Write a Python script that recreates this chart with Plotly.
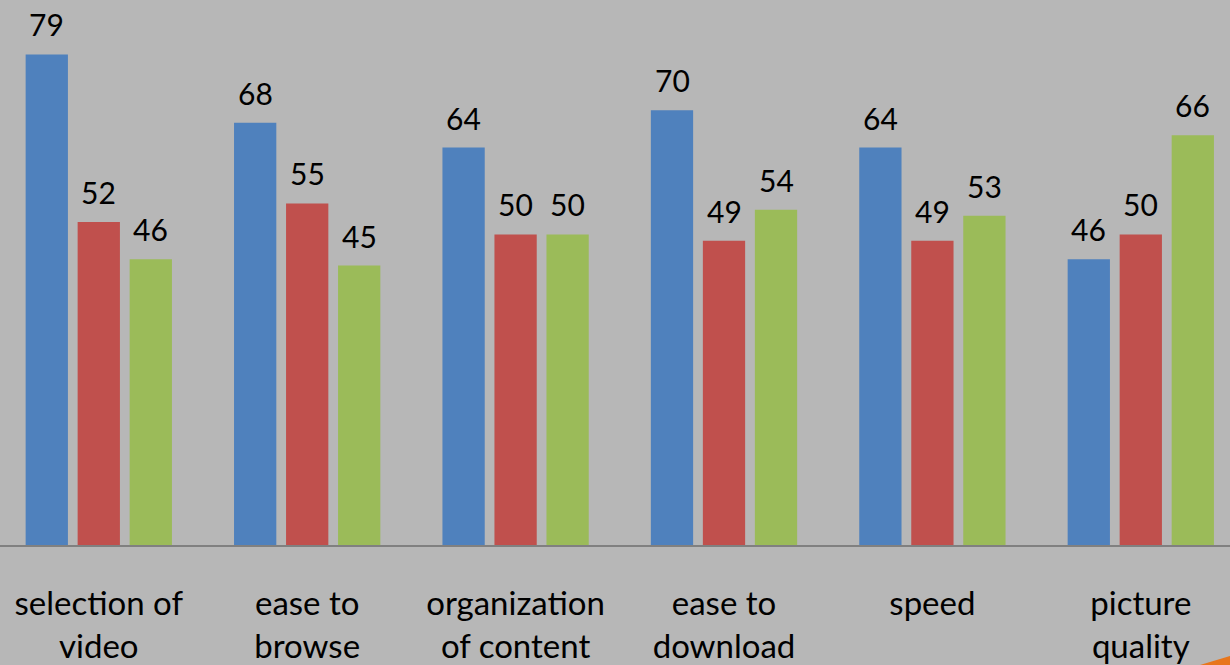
import plotly.graph_objects as go

categories = ["selection of<br>video", "ease to<br>browse", "organization<br>of content",
              "ease to<br>download", "speed", "picture<br>quality"]
series_a = [79, 68, 64, 70, 64, 46]
series_b = [52, 55, 50, 49, 49, 50]
series_c = [46, 45, 50, 54, 53, 66]
colors = ["#4F81BD", "#C0504D", "#9BBB59"]

BAR_SLOT_PX = 52  # pixel width of one bar slot within a group

fig = go.Figure()
all_series = [series_a, series_b, series_c]
for i, (vals, col) in enumerate(zip(all_series, colors)):
    fig.add_trace(go.Bar(
        x=categories, y=vals, name=f"s{i}", marker=dict(color=col, line=dict(width=0)),
        hoverinfo="x+y",
    ))
    for cat, v in zip(categories, vals):
        fig.add_annotation(
            x=cat, y=v, xref="x", yref="y", text=str(v), showarrow=False,
            yanchor="bottom", xanchor="center", xshift=(i - 1) * BAR_SLOT_PX, yshift=10,
            font=dict(family="Lato", size=30, color="black"),
        )

# decorative orange corner from background
fig.add_shape(type="path", xref="paper", yref="paper",
              path="M 0.9756 -0.2202 L 1 -0.2037 L 1 -0.2202 Z",
              fillcolor="#E8761C", line=dict(width=0), layer="above")

fig.update_layout(
    width=1230, height=665,
    margin=dict(l=0, r=0, t=0, b=120),
    paper_bgcolor="#b7b7b7", plot_bgcolor="#b7b7b7",
    barmode="group", bargap=0.2514, bargroupgap=0.187,
    showlegend=False,
    xaxis=dict(type="category", range=[-0.474, 5.428], showline=True, linecolor="#808080",
               linewidth=2, showgrid=False, ticks="", ticklabelstandoff=28,
               tickfont=dict(family="Lato", size=33, color="black")),
    yaxis=dict(range=[0, 87.76], visible=False, showgrid=False),
)
fig.write_html("out.html", config={"displayModeBar": False},
               post_script="document.body.style.margin='0';document.body.style.overflow='hidden';document.body.style.background='#b7b7b7';")
